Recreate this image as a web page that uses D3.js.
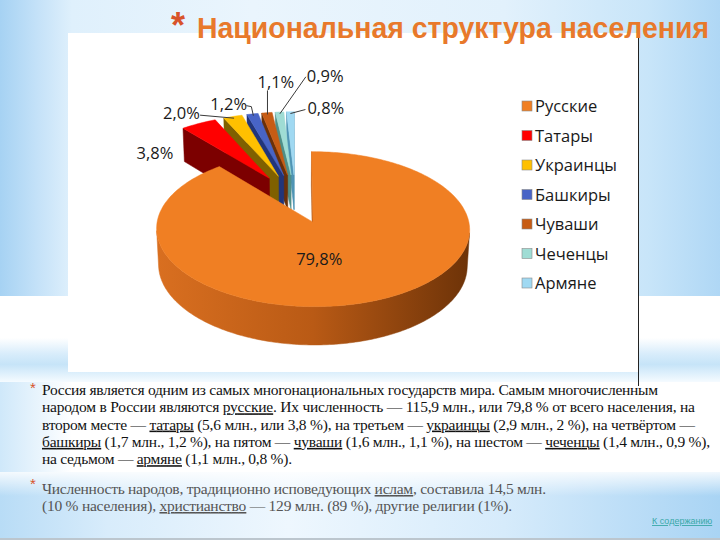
<!DOCTYPE html>
<html>
<head>
<meta charset="utf-8">
<script src="https://cdn.jsdelivr.net/npm/d3@7"></script>
<style>
  html, body { margin: 0; padding: 0; background: #fff; }
  svg { display: block; }
  text { white-space: pre; }
</style>
</head>
<body>
<svg id="slide" width="720" height="540"></svg>
<script>
// ---- data ----
const nations = ['Русские', 'Татары', 'Украинцы', 'Башкиры', 'Чуваши', 'Чеченцы', 'Армяне'];
const shares = [79.8, 3.8, 2.0, 1.2, 1.1, 0.9, 0.8];
const shareLabels = ['79,8%', '3,8%', '2,0%', '1,2%', '1,1%', '0,9%', '0,8%'];

const title = 'Национальная структура населения';

// each line is a list of [text, underlined]
const para1 = [
  [['Россия является одним из самых многонациональных государств мира. Самым многочисленным', false]],
  [['народом в России являются ', false], ['русские', true], ['. Их численность — 115,9 млн., или 79,8 % от всего населения, на', false]],
  [['втором месте — ', false], ['татары', true], [' (5,6 млн., или 3,8 %), на третьем — ', false], ['украинцы', true], [' (2,9 млн., 2 %), на четвёртом —', false]],
  [['башкиры', true], [' (1,7 млн., 1,2 %), на пятом — ', false], ['чуваши', true], [' (1,6 млн., 1,1 %), на шестом — ', false], ['чеченцы', true], [' (1,4 млн., 0,9 %),', false]],
  [['на седьмом — ', false], ['армяне', true], [' (1,1 млн., 0,8 %).', false]],
];
const para2 = [
  [['Численность народов, традиционно исповедующих ', false], ['ислам', true], [', составила 14,5 млн.', false]],
  [['(10 % населения), ', false], ['христианство', true], [' — 129 млн. (89 %), другие религии (1%).', false]],
];
const contentsLink = 'К содержанию';

// ---- styling ----
const topColors = ['#f07f23', '#ff0000', '#ffc000', '#4864c6', '#c75c14', '#9fdcd4', '#a0d9f2'];
const sideColors = ['#b85a15', '#7c0000', '#7f6000', '#22357a', '#6a3009', '#4f8f88', '#4f94b4'];

// 3D pie projection parameters (unit radius pie, screen scale in px)
const PIE = { cx: 295.4, cy: 234, scale: 149.5, dist: 10, tilt: 30 * Math.PI / 180, height: 0.27, explode: 0.335 };

// label placement relative to each slice's anchor point
const labelLayout = [
  { dx: -19, dy: 9, anchor: 'middle', leader: [] },
  { dx: -64, dy: 34, leader: [] },
  { dx: -71, dy: 1, leader: [[-34, -3]] },
  { dx: -43, dy: -6, leader: [[-7, -10], [-2, -9]] },
  { dx: -10, dy: -26, leader: [[0, -24]] },
  { dx: 27, dy: -32, leader: [[26, -37]] },
  { dx: 17, dy: 0, leader: [[15, -4]] },
];

const svg = d3.select('#slide');
const defs = svg.append('defs');

function linGrad(id, stops, vertical) {
  const g = defs.append('linearGradient').attr('id', id)
    .attr('x1', 0).attr('y1', 0).attr('x2', vertical ? 0 : 1).attr('y2', vertical ? 1 : 0);
  stops.forEach(([o, c, op]) => g.append('stop').attr('offset', o).attr('stop-color', c).attr('stop-opacity', op == null ? 1 : op));
}

// ---- slide background ----
linGrad('bgUpper', [[0, '#a6d2f3'], [0.05, '#c3e1f8'], [0.1, '#dff0fc'], [0.35, '#eaf5fd'], [0.7, '#e2f1fc'], [0.9, '#c8e5f9'], [1, '#afd7f5']]);
linGrad('bgStripe', [[0, '#ffffff'], [0.35, '#d9edfb'], [0.6, '#c6e4f8'], [1, '#f5fbff']], true);
linGrad('bgText', [[0, '#cfe8fa'], [0.1, '#ffffff'], [1, '#ffffff']]);
linGrad('bgLower', [[0, '#b8dcf6'], [0.15, '#d8ecfb'], [0.4, '#eef7fe'], [0.7, '#d6ebfb'], [1, '#a9d4f4']]);
linGrad('fadeDown', [[0, '#ffffff', 0.85], [1, '#ffffff', 0]], true);

svg.append('rect').attr('width', 720).attr('height', 540).attr('fill', '#ffffff');
svg.append('rect').attr('width', 720).attr('height', 296).attr('fill', 'url(#bgUpper)');
svg.append('rect').attr('y', 338).attr('width', 720).attr('height', 44).attr('fill', 'url(#bgStripe)');
svg.append('rect').attr('y', 382).attr('width', 720).attr('height', 90).attr('fill', 'url(#bgText)');
svg.append('rect').attr('y', 472).attr('width', 720).attr('height', 66).attr('fill', 'url(#bgLower)');
svg.append('rect').attr('y', 472).attr('width', 720).attr('height', 24).attr('fill', 'url(#fadeDown)');
svg.append('rect').attr('y', 538).attr('width', 720).attr('height', 2).attr('fill', '#bcc6ce');

// chart area
svg.append('rect').attr('x', 68).attr('y', 33).attr('width', 570).attr('height', 339).attr('fill', '#ffffff');
svg.append('line').attr('x1', 638.5).attr('x2', 638.5).attr('y1', 33).attr('y2', 386)
  .attr('stroke', '#222').attr('stroke-width', 1);

// ---- title ----
svg.append('text').attr('x', 171).attr('y', 38)
  .attr('font-family', '"Liberation Sans", Arial, sans-serif').attr('font-weight', 'bold')
  .attr('font-size', 36).attr('fill', '#d8532a').text('*');
svg.append('text').attr('x', 197).attr('y', 38)
  .attr('font-family', '"Liberation Sans", Arial, sans-serif').attr('font-weight', 'bold')
  .attr('font-size', 29).attr('fill', '#e8792b')
  .attr('textLength', 512).attr('lengthAdjust', 'spacingAndGlyphs')
  .text(title);

// ---- 3D pie ----
const project = (X, Y, Z) => {
  const v = Y * Math.sin(PIE.tilt) + Z * Math.cos(PIE.tilt);
  const w = Y * Math.cos(PIE.tilt) - Z * Math.sin(PIE.tilt);
  const p = PIE.dist / (PIE.dist + w);
  return [PIE.cx + PIE.scale * X * p, PIE.cy - PIE.scale * v * p];
};
const camera = [0, -PIE.dist * Math.cos(PIE.tilt), PIE.dist * Math.sin(PIE.tilt)];
const facesCamera = (n, P) =>
  n[0] * (camera[0] - P[0]) + n[1] * (camera[1] - P[1]) + n[2] * (camera[2] - P[2]) > 0;
const closed = pts => d3.line()(pts) + 'Z';

const slices = d3.pie().sort(null)(shares).map((d, i) => {
  const mid = (d.startAngle + d.endAngle) / 2;
  return Object.assign({}, d, { i, mid, ex: PIE.explode * Math.sin(mid), ey: PIE.explode * Math.cos(mid) });
});

// outer-side gradients
slices.forEach(s => {
  const base = d3.color(sideColors[s.i]);
  const stops = s.i === 0
    ? [[0, '#d96f20'], [0.5, '#b95a15'], [1, '#6d3308']]
    : [[0, base.brighter(0.4).formatHex()], [1, base.darker(0.5).formatHex()]];
  linGrad('outer' + s.i, stops);
});

const pieLayer = svg.append('g').attr('id', 'pie');
const H = PIE.height;

// far slices first so nearer ones paint over them
slices.slice().sort((a, b) => b.ey - a.ey).forEach(s => {
  const g = pieLayer.append('g');
  const P3 = (t, r, z) => [s.ex + r * Math.sin(t), s.ey + r * Math.cos(t), z];
  const P2 = (t, r, z) => project(...P3(t, r, z));
  const n = Math.max(2, Math.ceil((s.endAngle - s.startAngle) / (Math.PI / 180)));
  const ts = d3.range(n + 1).map(k => s.startAngle + (s.endAngle - s.startAngle) * k / n);

  // radial cut faces
  [[s.startAngle, -1], [s.endAngle, 1]].forEach(([t, sgn]) => {
    const normal = [sgn * Math.cos(t), -sgn * Math.sin(t), 0];
    if (!facesCamera(normal, P3(t, 0.5, H / 2))) return;
    g.append('path')
      .attr('d', closed([P2(t, 0, H), P2(t, 1, H), P2(t, 1, 0), P2(t, 0, 0)]))
      .attr('fill', sideColors[s.i]).attr('stroke', sideColors[s.i]).attr('stroke-width', 0.5);
  });

  // outer curved side, only the parts turned to the viewer
  const runs = [];
  let run = [];
  for (let k = 0; k < n; k++) {
    const tm = (ts[k] + ts[k + 1]) / 2;
    if (facesCamera([Math.sin(tm), Math.cos(tm), 0], P3(tm, 1, 0))) {
      if (!run.length) run.push(ts[k]);
      run.push(ts[k + 1]);
    } else if (run.length) { runs.push(run); run = []; }
  }
  if (run.length) runs.push(run);
  runs.forEach(r => {
    const pts = r.map(t => P2(t, 1, H)).concat(r.slice().reverse().map(t => P2(t, 1, 0)));
    g.append('path').attr('d', closed(pts))
      .attr('fill', `url(#outer${s.i})`).attr('stroke', `url(#outer${s.i})`).attr('stroke-width', 0.5);
  });

  // top face
  g.append('path')
    .attr('d', closed([P2(0, 0, H)].concat(ts.map(t => P2(t, 1, H)))))
    .attr('fill', topColors[s.i]).attr('stroke', topColors[s.i]).attr('stroke-width', 0.5);
});

// data labels with leader lines
const labelLayer = svg.append('g').attr('id', 'labels')
  .attr('font-family', '"Open Sans", "Noto Sans", sans-serif').attr('font-size', 16.5).attr('fill', '#1a1a1a');
slices.forEach(s => {
  const lay = labelLayout[s.i];
  const anchor = s.i === 0
    ? project(s.ex + 0.45 * Math.sin(s.mid), s.ey + 0.45 * Math.cos(s.mid), H)
    : project(s.ex + 0.97 * Math.sin(s.mid), s.ey + 0.97 * Math.cos(s.mid), H);
  if (lay.leader.length) {
    const pts = lay.leader.map(([dx, dy]) => [anchor[0] + dx, anchor[1] + dy]).concat([anchor]);
    labelLayer.append('path').attr('d', d3.line()(pts))
      .attr('fill', 'none').attr('stroke', '#3a3a3a').attr('stroke-width', 1);
  }
  labelLayer.append('text')
    .attr('x', anchor[0] + lay.dx).attr('y', anchor[1] + lay.dy)
    .attr('text-anchor', lay.anchor || 'start')
    .text(shareLabels[s.i]);
});

// legend
const legendY = d3.scaleLinear().domain([0, nations.length - 1]).range([106, 283]);
const legend = svg.append('g').attr('id', 'legend')
  .attr('font-family', '"Open Sans", "Noto Sans", sans-serif').attr('font-size', 16.5).attr('fill', '#1a1a1a');
nations.forEach((name, i) => {
  legend.append('rect').attr('x', 522).attr('y', legendY(i) - 5).attr('width', 10).attr('height', 10)
    .attr('fill', topColors[i]).attr('stroke', '#8a8a8a').attr('stroke-width', 0.6);
  legend.append('text').attr('x', 535).attr('y', legendY(i) + 6).text(name);
});

// ---- body text ----
function writeLines(lines, y0, step, color, widths) {
  lines.forEach((segs, li) => {
    const t = svg.append('text').attr('x', 42).attr('y', y0 + li * step)
      .attr('font-family', '"Liberation Serif", "Times New Roman", serif').attr('font-size', 15.5)
      .attr('fill', color)
      .attr('textLength', widths[li]).attr('lengthAdjust', 'spacing');
    segs.forEach(([str, u]) => {
      const ts = t.append('tspan').text(str);
      if (u) ts.attr('text-decoration', 'underline');
    });
  });
}
const bullet = (y) => svg.append('text').attr('x', 30).attr('y', y)
  .attr('font-family', '"Liberation Sans", Arial, sans-serif').attr('font-size', 15)
  .attr('fill', '#d8532a').text('*');

bullet(393);
writeLines(para1, 395, 17.3, '#111111', [616, 653, 653, 668, 250]);
bullet(489);
writeLines(para2, 494, 17, '#555555', [504, 470]);

svg.append('text').attr('x', 652).attr('y', 524)
  .attr('font-family', '"Liberation Sans", Arial, sans-serif').attr('font-size', 9)
  .attr('fill', '#3aa9a9').attr('text-decoration', 'underline')
  .text(contentsLink);
</script>
</body>
</html>
